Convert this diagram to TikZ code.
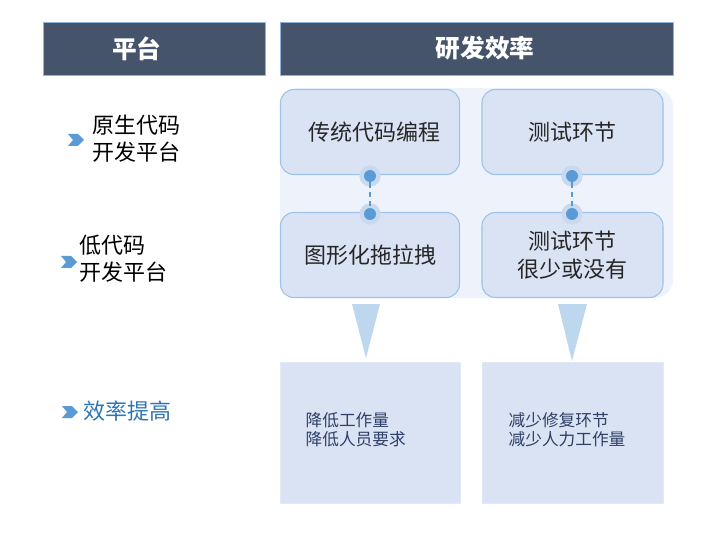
\documentclass[tikz,border=0pt]{standalone}
\usepackage{fontspec}
\setmainfont{Noto Sans CJK SC}
\usetikzlibrary{calc}
\definecolor{hdr}{HTML}{46546B}
\definecolor{hdrline}{HTML}{8FB4E0}
\definecolor{panel}{HTML}{EEF3FB}
\definecolor{boxfill}{HTML}{DAE3F3}
\definecolor{boxline}{HTML}{9DC3E6}
\definecolor{dotc}{HTML}{5B9BD5}
\definecolor{halo}{HTML}{C9DAF0}
\definecolor{tri}{HTML}{BDD7EE}
\definecolor{navy}{HTML}{2F3F66}
\definecolor{effblue}{HTML}{2E75B6}
\tikzset{
  x=0.75pt, y=-0.75pt,
  hdrbox/.style={draw=hdrline, line width=0.6pt, fill=hdr},
  hdrtext/.style={text=white, font=\fontsize{18.5}{22}\selectfont\bfseries},
  rbox/.style={draw=boxline, line width=0.8pt, fill=boxfill, rounded corners=10pt, align=center, font=\fontsize{16.5}{20.5}\selectfont, text=black!85},
  effbox/.style={fill=boxfill, draw=boxfill!80!white},
  efftext/.style={align=left, anchor=west, font=\fontsize{12.5}{14.5}\selectfont, text=navy},
  sidetext/.style={align=left, anchor=west, font=\fontsize{16.5}{20}\selectfont, text=black},
  dot/.style={circle, fill=dotc, minimum size=9pt, inner sep=0pt},
  halodot/.style={circle, fill=halo, minimum size=16pt, inner sep=0pt},
  link/.style={draw=dotc, line width=1.3pt, dash pattern=on 4pt off 3pt},
  tris/.style={fill=tri, draw=none},
  chev/.pic={\fill[dotc] (-8,-6) -- (2,-6) -- (8,0) -- (2,6) -- (-8,6) -- (-3,0) -- cycle;}
}
\begin{document}
\begin{tikzpicture}
\useasboundingbox (0,0) rectangle (701,535);
\fill[white] (0,0) rectangle (701,535);
% headers
\path[hdrbox] (43,22) rectangle (265,75);
\node[hdrtext] (h1) at (137,48.5) {平台};
\path[hdrbox] (280,22) rectangle (673,75);
\node[hdrtext] (h2) at (485,48.5) {研发效率};
% panel
\fill[panel, rounded corners=14pt] (280,88) rectangle (673,298);
% rounded boxes
\node[rbox, minimum width=179*0.75pt, minimum height=85*0.75pt] (b1) at (370,132) {\hspace*{6pt}传统代码编程};
\node[rbox, minimum width=181*0.75pt, minimum height=85*0.75pt] (b2) at (572.5,132) {测试环节};
\node[rbox, minimum width=179*0.75pt, minimum height=85*0.75pt] (b3) at (370,255) {图形化拖拉拽};
\node[rbox, minimum width=181*0.75pt, minimum height=85*0.75pt] (b4) at (572.5,255) {测试环节\\很少或没有};
% connectors with dots
\node[halodot] (h1a) at (370,176) {};
\node[halodot] (h1b) at (370,214) {};
\node[halodot] (h2a) at (572,176) {};
\node[halodot] (h2b) at (572,214) {};
\node[dot] (d1a) at (370,176) {};
\node[dot] (d1b) at (370,214) {};
\node[dot] (d2a) at (572,176) {};
\node[dot] (d2b) at (572,214) {};
\draw[link] (d1a) -- (d1b);
\draw[link] (d2a) -- (d2b);
% triangles
\fill[tris] (352,304) -- (380,304) -- (366,358) -- cycle;
\fill[tris] (558,304) -- (587,304) -- (572,361) -- cycle;
% effect boxes
\path[effbox] (280,362) rectangle (460,503);
\path[effbox] (482,362) rectangle (663,503);
\node[efftext] (e1) at (301,430) {降低工作量\\降低人员要求};
\node[efftext] (e2) at (504,430) {减少修复环节\\减少人力工作量};
% side labels
\pic at (76,140) {chev};
\node[sidetext] (s1) at (88,139) {原生代码\\开发平台};
\pic at (69,262) {chev};
\node[sidetext] (s2) at (75,259) {低代码\\开发平台};
\pic at (70,412) {chev};
\node[sidetext, text=effblue] (s3) at (79,411) {效率提高};
\end{tikzpicture}
\end{document}
